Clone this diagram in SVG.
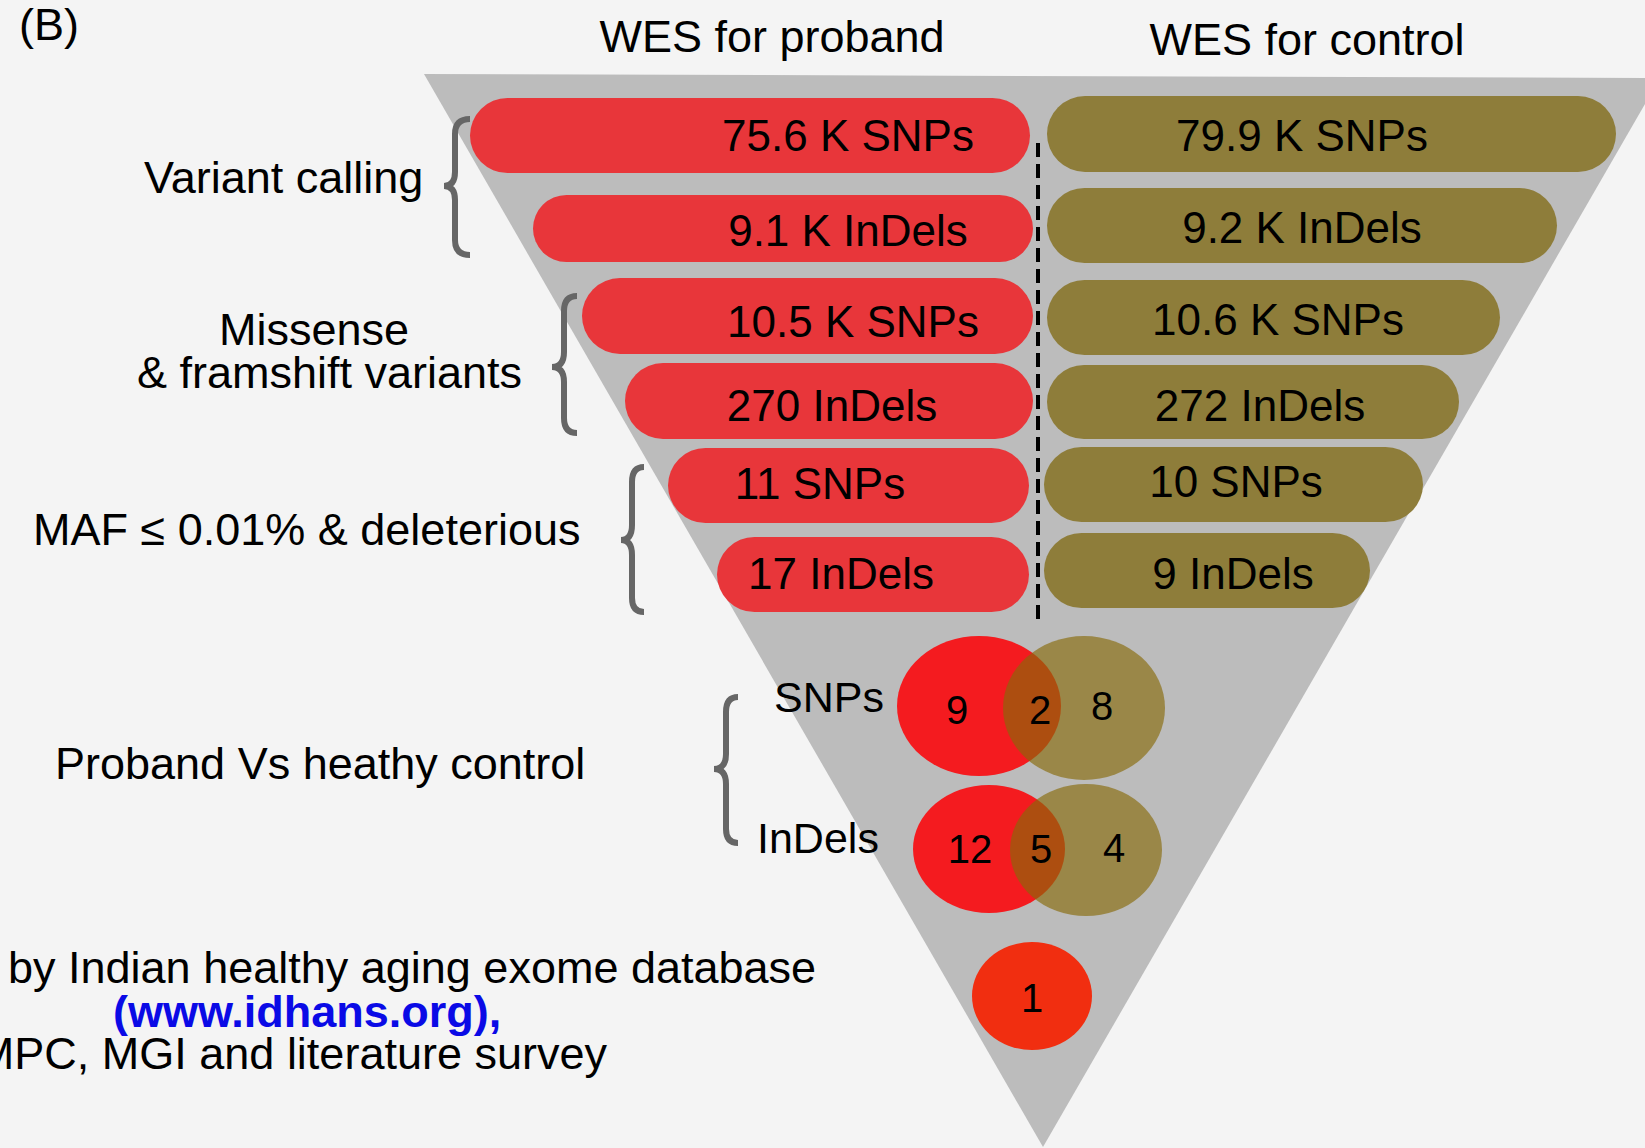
<svg xmlns="http://www.w3.org/2000/svg" width="1645" height="1148" viewBox="0 0 1645 1148">
<style>
text{font-family:"Liberation Sans",Arial,sans-serif;fill:#000}
.t{font-size:45px}
.p{font-size:44px;text-anchor:middle}
.n{font-size:40px;text-anchor:middle}
.red{fill:#E8363A}
.olv{fill:#8E7D3A}
.brace{fill:none;stroke:#666;stroke-width:6;stroke-linecap:butt}
.link{font-size:45px;font-weight:bold;fill:#0A0AE6}
</style>
<rect width="1645" height="1148" fill="#F4F4F4"/>
<polygon id="funnel" points="424,74 1660,78 1043,1147" fill="#BCBCBC"/>
<text class="t" x="19" y="40">(B)</text>
<text class="t" x="772" y="52" text-anchor="middle">WES for proband</text>
<text class="t" x="1307" y="55" text-anchor="middle">WES for control</text>

<g id="labels">
<text class="t" x="144" y="193">Variant calling</text>
<text class="t" x="219" y="345">Missense</text>
<text class="t" x="137" y="388">&amp; framshift variants</text>
<text class="t" x="33" y="545">MAF ≤ 0.01% &amp; deleterious</text>
<text class="t" x="55" y="779">Proband Vs heathy control</text>
<text class="t" x="774" y="712" style="font-size:43px">SNPs</text>
<text class="t" x="757" y="853" style="font-size:43px">InDels</text>
<text class="t" x="8" y="983">by Indian healthy aging exome database</text>
<text class="link" x="113" y="1027">(www.idhans.org),</text>
<text class="t" x="607" y="1069" text-anchor="end">MPC, MGI and literature survey</text>
</g>

<g id="connectors">
<path class="brace" d="M470,119 Q455,119 455,134 L455,172 Q455,186 444,186 Q455,186 455,200 L455,240 Q455,255 470,255"/>
<path class="brace" d="M577,296 Q564,296 564,311 L564,352 Q564,367 552,367 Q564,367 564,382 L564,418 Q564,433 577,433"/>
<path class="brace" d="M644,467 Q632,467 632,482 L632,525 Q632,540 621,540 Q632,540 632,555 L632,598 Q632,612 644,612"/>
<path class="brace" d="M738,697 Q726,697 726,712 L726,754 Q726,769 714,769 Q726,769 726,784 L726,829 Q726,843 738,843"/>
<line x1="1038" y1="143" x2="1038" y2="625" stroke="#000" stroke-width="4" stroke-dasharray="14 7"/>
</g>

<g id="proband-snps-1"><rect class="red" x="470" y="98" width="560" height="75" rx="37.5"/><text class="p" x="848" y="151">75.6 K SNPs</text></g>
<g id="proband-indels-1"><rect class="red" x="533" y="195" width="500" height="67" rx="33.5"/><text class="p" x="848" y="246">9.1 K InDels</text></g>
<g id="proband-snps-2"><rect class="red" x="582" y="278" width="451" height="76" rx="38"/><text class="p" x="853" y="337">10.5 K SNPs</text></g>
<g id="proband-indels-2"><rect class="red" x="625" y="363" width="408" height="76" rx="38"/><text class="p" x="832" y="421">270 InDels</text></g>
<g id="proband-snps-3"><rect class="red" x="668" y="448" width="361" height="75" rx="37.5"/><text class="p" x="820" y="499">11 SNPs</text></g>
<g id="proband-indels-3"><rect class="red" x="717" y="537" width="312" height="75" rx="37.5"/><text class="p" x="841" y="589">17 InDels</text></g>

<g id="control-snps-1"><rect class="olv" x="1047" y="96" width="569" height="76" rx="38"/><text class="p" x="1302" y="151">79.9 K SNPs</text></g>
<g id="control-indels-1"><rect class="olv" x="1047" y="188" width="510" height="75" rx="37.5"/><text class="p" x="1302" y="243">9.2 K InDels</text></g>
<g id="control-snps-2"><rect class="olv" x="1047" y="280" width="453" height="75" rx="37.5"/><text class="p" x="1278" y="335">10.6 K SNPs</text></g>
<g id="control-indels-2"><rect class="olv" x="1047" y="365" width="412" height="74" rx="37"/><text class="p" x="1260" y="421">272 InDels</text></g>
<g id="control-snps-3"><rect class="olv" x="1044" y="447" width="379" height="75" rx="37.5"/><text class="p" x="1236" y="497">10 SNPs</text></g>
<g id="control-indels-3"><rect class="olv" x="1044" y="533" width="326" height="75" rx="37.5"/><text class="p" x="1233" y="589">9 InDels</text></g>

<g id="venn-snps">
<ellipse cx="979" cy="706" rx="82" ry="70" fill="#F41B1F"/>
<ellipse cx="1084" cy="708" rx="81" ry="72" fill="#876A09" fill-opacity="0.65"/>
<text class="n" x="957" y="724">9</text>
<text class="n" x="1040" y="724">2</text>
<text class="n" x="1102" y="720">8</text>
</g>
<g id="venn-indels">
<ellipse cx="989" cy="849" rx="76" ry="64" fill="#F41B1F"/>
<ellipse cx="1086" cy="850" rx="76" ry="66" fill="#876A09" fill-opacity="0.65"/>
<text class="n" x="970" y="863">12</text>
<text class="n" x="1041" y="863">5</text>
<text class="n" x="1114" y="862">4</text>
</g>
<g id="final">
<ellipse cx="1032" cy="996" rx="60" ry="54" fill="#F12E10"/>
<text class="n" x="1032" y="1012">1</text>
</g>
</svg>
